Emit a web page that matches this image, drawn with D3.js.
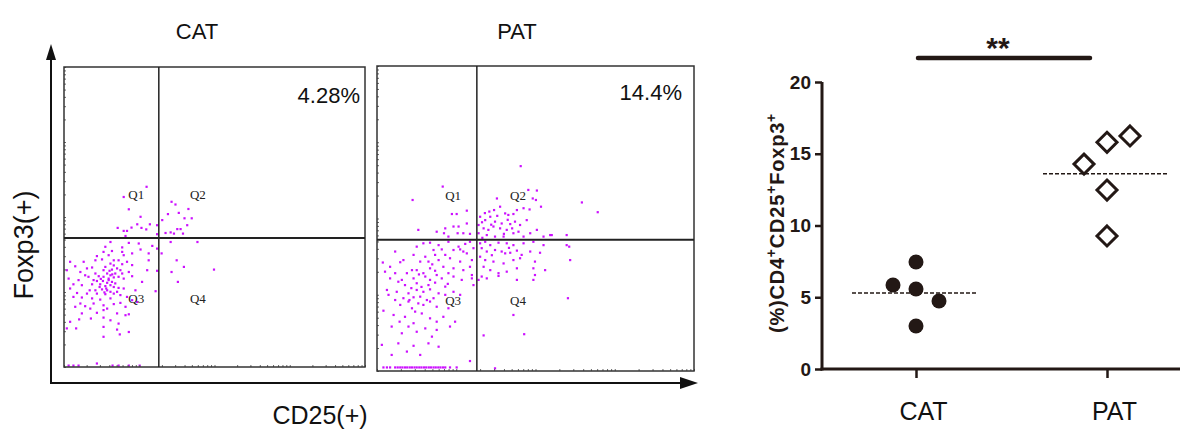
<!DOCTYPE html>
<html>
<head>
<meta charset="utf-8">
<script src="https://cdn.jsdelivr.net/npm/d3@7"></script>
<style>
body { margin: 0; background: #fff; }
text { font-family: "Liberation Sans", Arial, sans-serif; }
</style>
</head>
<body>
<script>
// flow panels: dots in gate units (0-100 each way)
const panels = ["CAT", "PAT"];
const percents = ["4.28%", "14.4%"];
const quadLabels = ["Q1", "Q2", "Q3", "Q4"];
const gateX = 31.5, gateY = 43;

const catDots = [
  [27.4,60.1],[19.8,56.7],[21.5,52.6],[25.4,50.1],[24.3,47.6],[28.5,47.6],[25.7,46.4],[30.9,47.3],[17.8,46.4],[19.8,45.4],
  [20.9,45.4],[20.4,43.7],[27.3,45.9],[22.4,46.5],
  [35.7,55.1],[37.0,54.2],[41.3,52.7],[34.5,51.0],[38.1,51.4],[40.0,49.6],[42.4,49.6],[40.9,47.3],[32.6,49.0],[38.7,46.0],
  [37.6,46.0],[39.5,44.5],[33.7,44.7],[35.4,44.9],[36.5,44.5],[30.9,44.3],
  [44.3,41.7],[35.4,41.7],[32.4,37.9],[37.4,35.6],[39.8,33.4],[49.8,32.5],[35.7,31.7],[37.8,28.4],[30.4,25.3],[30.9,32.1],
  [15.4,41.7],[21.5,41.4],[24.8,41.2],[13.7,40.1],[19.3,39.9],[29.3,40.4],[30.9,39.5],[25.4,39.2],[13.1,38.4],[15.9,38.7],
  [19.3,38.4],[14.8,37.3],[19.8,37.3],[22.6,37.9],[28.1,37.9],[10.9,37.0],[6.5,35.1],[10.4,35.6],[12.6,35.9],[16.5,35.6],
  [18.1,35.6],[20.9,35.1],[28.1,35.6],[2.0,35.1],[15.4,34.5],[19.3,34.3],[22.6,34.0],[3.7,33.6],[7.6,32.9],[9.3,33.2],
  [13.1,32.3],[15.9,32.5],[17.6,32.9],[18.7,32.3],[21.5,31.7],[27.6,32.3],[0.9,32.3],[5.4,31.7],[10.4,31.2],[14.3,31.2],
  [17.0,31.2],[7.0,30.6],[8.1,30.1],[11.5,30.3],[13.1,30.1],[15.4,30.6],[16.5,29.9],[18.1,30.1],[19.8,29.5],[14.8,29.0],
  [10.9,28.7],[4.8,29.0],[1.5,29.5],[22.6,30.3],[25.9,28.4],[3.1,27.6],[5.9,27.3],[9.3,27.6],[12.0,27.6],[13.7,27.0],
  [15.4,27.3],[16.5,26.7],[18.1,26.4],[19.8,26.2],[12.6,25.9],[10.4,25.6],[14.3,25.6],[2.0,26.2],[23.7,25.6],[4.3,24.7],
  [7.6,24.5],[10.9,24.5],[13.7,24.3],[16.5,24.5],[18.7,24.0],[20.9,23.4],[5.9,23.2],[9.3,22.9],[15.4,22.9],[12.0,22.5],
  [3.1,23.4],[22.6,22.3],[5.4,21.2],[7.0,20.3],[9.8,21.2],[13.1,20.6],[16.5,21.0],[18.7,21.4],[20.4,20.1],[14.3,19.5],
  [8.7,19.5],[3.7,20.1],[24.3,21.7],[13.1,19.0],[10.9,18.1],[5.9,17.9],[17.6,17.9],[20.4,17.3],[21.5,17.6],[8.9,16.2],
  [5.0,15.9],[13.1,16.5],[15.4,15.6],[18.1,14.5],[2.0,15.1],[0.9,12.9],[4.0,12.9],[13.1,13.4],[17.6,12.5],[21.5,11.7],
  [18.5,10.9],[13.1,10.1],[14.8,29.5],[15.9,28.4],[17.0,27.9],[14.3,28.1],[12.9,28.7],[17.6,25.1],[15.4,25.1],[11.8,26.7],
  [19.3,31.2],[13.7,33.4],[16.5,33.9],[9.8,29.0],[8.5,25.6],[15.1,32.1],[14.0,26.2],[12.2,29.4],[16.0,30.9],[13.4,24.9],
  [1.5,0.5],[3.1,0.5],[4.8,0.5],[10.9,1.2],[16.1,0.5],[18.1,0.5],[21.5,0.5],[25.1,0.5]
];

const patDots = [
  [45.3,67.2],[11.2,56.1],[20.7,60.5],[64.6,55.3],[69.6,52.1],[47.7,59.4],[50.4,59.2],[37.8,56.6],[49.1,56.6],[51.7,53.9],[50.1,56.1],
  [23.6,51.5],[25.1,51.5],[28.3,52.6],[13.0,46.3],[18.8,45.7],[21.5,46.8],[24.1,47.4],[25.7,47.4],[21.1,45.2],[25.4,45.2],
  [27.2,45.2],[29.3,45.0],[28.3,48.4],[22.5,44.1],
  [35.4,52.3],[36.9,52.8],[38.8,53.9],[40.4,51.7],[41.4,51.2],[43.0,51.5],[44.1,52.8],[46.2,53.4],[48.1,53.0],[32.5,50.6],
  [34.1,49.5],[35.7,50.6],[37.2,49.0],[39.3,48.4],[42.0,48.2],[43.5,49.0],[45.1,47.9],[47.2,49.5],[32.0,47.9],[33.6,46.8],
  [35.1,46.3],[36.7,47.4],[38.8,46.8],[40.9,46.3],[43.0,45.2],[44.6,45.7],[48.3,45.2],[50.4,46.3],[54.6,44.6],[59.8,44.6],
  [32.0,45.2],[34.6,44.6],[37.2,44.1],[39.9,44.1],[46.2,44.1],[52.5,44.1],[55.1,44.6],[33.1,48.8],[36.0,48.0],[41.2,49.6],
  [34.0,51.8],[37.9,50.9],[40.0,45.0],[42.6,46.8],[33.2,43.7],
  [32.5,41.9],[34.1,42.4],[35.7,41.3],[38.3,42.1],[40.9,41.9],[43.0,41.3],[46.2,41.9],[49.3,42.4],[52.5,41.3],[59.8,41.3],
  [60.6,40.8],[33.0,40.3],[34.6,39.2],[37.2,39.7],[39.3,39.2],[40.4,38.6],[42.0,38.8],[44.1,39.5],[45.6,38.1],[48.3,39.2],
  [51.4,38.8],[32.5,37.5],[34.1,36.4],[36.7,35.9],[39.9,35.3],[43.0,36.4],[45.1,37.0],[49.8,35.9],[53.0,33.1],[60.9,36.4],
  [33.6,34.2],[35.7,33.1],[38.3,32.1],[40.9,32.6],[44.1,33.7],[49.3,33.7],[49.8,31.5],[33.0,31.0],[34.6,30.4],[38.3,31.2],
  [44.1,29.9],[49.3,29.9],[32.0,29.9],[60.2,23.9],[43.0,18.4],[46.4,12.1],[33.6,11.7],[37.2,0.9],[36.2,38.0],[41.6,40.4],
  [14.6,41.9],[16.7,42.1],[19.4,41.3],[22.5,42.4],[25.7,40.8],[27.8,41.7],[29.3,42.4],[12.5,40.8],[20.4,39.9],[24.1,39.7],
  [26.2,39.9],[27.2,39.2],[30.4,40.3],[5.7,39.2],[17.8,39.7],[11.5,38.1],[15.2,37.5],[18.3,38.1],[21.5,38.1],[28.3,38.6],
  [8.3,36.4],[13.6,35.9],[16.2,35.9],[19.4,36.4],[23.0,37.0],[26.2,35.9],[29.9,36.4],[1.8,35.6],[7.3,35.7],[4.1,34.2],
  [11.0,33.1],[12.5,33.1],[16.7,33.7],[18.3,32.9],[20.9,34.2],[24.1,33.7],[27.2,33.1],[29.3,34.2],[9.4,32.1],[14.6,32.1],
  [18.8,31.5],[22.5,32.1],[29.9,31.5],[2.5,32.6],[5.7,32.1],[7.8,29.9],[11.5,30.4],[15.2,31.0],[16.7,29.9],[20.4,30.4],
  [24.1,31.0],[26.7,29.9],[29.9,30.4],[4.1,30.4],[8.8,28.2],[12.5,28.8],[16.2,28.2],[18.3,29.0],[21.5,27.7],[30.4,28.2],
  [6.7,29.3],[3.1,26.6],[6.2,26.0],[9.9,25.5],[12.5,26.6],[14.6,26.0],[16.7,26.8],[19.4,25.5],[21.5,25.0],[24.1,26.0],
  [8.3,23.9],[11.5,24.2],[13.6,24.4],[15.7,23.3],[17.8,23.9],[26.2,25.0],[3.6,25.0],[5.7,23.3],[9.9,22.8],[13.0,22.2],
  [14.6,21.7],[18.8,21.1],[22.5,20.6],[2.0,19.8],[7.3,21.7],[11.0,20.6],[16.7,22.8],[5.2,18.4],[8.8,17.8],[14.1,18.9],
  [16.7,17.3],[11.5,15.7],[18.8,16.2],[24.6,16.2],[20.9,17.8],[7.1,16.2],[4.6,14.6],[9.9,14.6],[15.2,14.0],[18.8,13.5],
  [7.8,12.4],[12.5,12.9],[17.3,11.3],[23.0,14.6],[1.5,8.6],[6.7,9.1],[11.5,8.3],[16.2,9.1],[9.4,6.4],[13.6,5.3],
  [4.6,5.3],[19.4,8.0],[29.3,3.3],[14.0,27.6],[10.8,27.2],[13.2,31.7],[17.4,35.0],[22.3,28.6],[10.2,23.3],[12.0,19.5],
  [2.0,1.2],[3.1,1.2],[4.1,1.2],[5.7,1.2],[6.5,1.2],[7.3,1.2],[8.0,1.2],[8.8,1.2],[9.5,1.2],[10.3,1.2],
  [11.0,1.2],[11.8,1.2],[12.5,1.2],[13.3,1.2],[14.0,1.2],[14.8,1.2],[15.5,1.2],[16.3,1.2],[17.0,1.2],[17.8,1.2],
  [18.5,1.2],[19.3,1.2],[20.0,1.2],[20.8,1.2],[21.5,1.2],[23.0,1.2],[25.1,1.2]
];
const flowDots = [catDots, patDots];

// right dot plot
const groups = ["CAT", "PAT"];
const catVals = [5.85, 7.46, 5.57, 4.74, 3.0];
const patVals = [14.28, 15.8, 16.24, 12.47, 9.27];
const jitterCol = [-1, 0, 0, 1, 0];
const patCol = [-1, 0, 1, 0, 0];
const means = [5.3, 13.6];
const yTicks = [0, 5, 10, 15, 20];
const sigLabel = "**";

const svg = d3.select("body").append("svg")
  .attr("width", 1188).attr("height", 432);

// ---- flow panels ----
const boxes = [
  {x0: 64, x1: 365, y0: 67, y1: 367, title: 197, px: 360, py: 103},
  {x0: 377, x1: 694, y0: 66, y1: 371, title: 517, px: 682, py: 100}
];

boxes.forEach(function(b, i) {
  const x = d3.scaleLinear().domain([0, 100]).range([b.x0, b.x1]);
  const y = d3.scaleLinear().domain([0, 100]).range([b.y1, b.y0]);
  const g = svg.append("g");

  g.append("text").attr("x", b.title).attr("y", 39)
    .attr("text-anchor", "middle").attr("font-size", 22).attr("fill", "#111")
    .text(panels[i]);

  g.selectAll("rect.dot").data(flowDots[i]).enter().append("rect")
    .attr("class", "dot")
    .attr("x", d => x(d[0]) - 1).attr("y", d => y(d[1]) - 1)
    .attr("width", 2.2).attr("height", 2.2)
    .attr("fill", "#cc10ff");

  // little log ticks on the inner edges
  const lg = d3.scaleLog().domain([1, 10000]);
  g.append("g").attr("transform", "translate(" + b.x0 + ",0)")
    .call(d3.axisRight(lg.copy().range([b.y1, b.y0])).tickSize(2).tickFormat(""))
    .call(s => s.select(".domain").remove())
    .selectAll("line").attr("stroke", "#666");
  g.append("g").attr("transform", "translate(0," + b.y1 + ")")
    .call(d3.axisTop(lg.copy().range([b.x0, b.x1])).tickSize(2).tickFormat(""))
    .call(s => s.select(".domain").remove())
    .selectAll("line").attr("stroke", "#666");

  g.append("rect").attr("x", b.x0).attr("y", b.y0)
    .attr("width", b.x1 - b.x0).attr("height", b.y1 - b.y0)
    .attr("fill", "none").attr("stroke", "#333").attr("stroke-width", 1.5);

  g.append("line").attr("x1", x(gateX)).attr("x2", x(gateX))
    .attr("y1", b.y0).attr("y2", b.y1).attr("stroke", "#222").attr("stroke-width", 1.5);
  g.append("line").attr("x1", b.x0).attr("x2", b.x1)
    .attr("y1", y(gateY)).attr("y2", y(gateY)).attr("stroke", "#222").attr("stroke-width", 2);

  const qx = [gateX - 7.5, gateX + 13, gateX - 7.5, gateX + 13];
  const qy = [gateY + 13, gateY + 13, gateY - 21.5, gateY - 21.5];
  g.selectAll("text.q").data(quadLabels).enter().append("text")
    .attr("class", "q")
    .attr("x", (d, k) => x(qx[k])).attr("y", (d, k) => y(qy[k]))
    .attr("text-anchor", "middle")
    .style("font-family", "'Liberation Serif', 'DejaVu Serif', serif")
    .attr("font-size", 13).attr("fill", "#222")
    .text(d => d);

  g.append("text").attr("x", b.px).attr("y", b.py)
    .attr("text-anchor", "end").attr("font-size", 22).attr("fill", "#111")
    .text(percents[i]);
});

// axis arrows
svg.append("line").attr("x1", 51).attr("x2", 51).attr("y1", 384).attr("y2", 56)
  .attr("stroke", "#111").attr("stroke-width", 2);
svg.append("path").attr("d", "M51,44 L46,60 L56,60 Z").attr("fill", "#111");
svg.append("line").attr("x1", 50).attr("x2", 684).attr("y1", 383).attr("y2", 383)
  .attr("stroke", "#111").attr("stroke-width", 2);
svg.append("path").attr("d", "M698,383 L680,377 L680,389 Z").attr("fill", "#111");

svg.append("text").attr("transform", "translate(33,245) rotate(-90)")
  .attr("text-anchor", "middle").attr("font-size", 27).attr("fill", "#111")
  .text("Foxp3(+)");
svg.append("text").attr("x", 320).attr("y", 424)
  .attr("text-anchor", "middle").attr("font-size", 25).attr("fill", "#111")
  .text("CD25(+)");

// ---- dot plot ----
const y = d3.scaleLinear().domain([0, 20]).range([369, 82]);
const x = d3.scalePoint().domain(groups).range([916, 1107]);
const jit = 23;

const yAxis = svg.append("g").attr("transform", "translate(822,0)")
  .call(d3.axisLeft(y).tickValues(yTicks).tickSize(7).tickPadding(4));
yAxis.select(".domain").attr("stroke", "#231815").attr("stroke-width", 3)
  .attr("d", "M0," + y(20) + "V" + (y(0) + 1.5));
yAxis.selectAll(".tick line").attr("stroke", "#231815").attr("stroke-width", 2.5);
yAxis.selectAll(".tick text").attr("font-size", 19).attr("font-weight", "bold")
  .attr("fill", "#231815").style("font-family", "'Liberation Sans', Arial, sans-serif");

const xAxis = svg.append("g").attr("transform", "translate(0,369)")
  .call(d3.axisBottom(x).tickSize(9).tickPadding(24));
xAxis.select(".domain").attr("stroke", "#231815").attr("stroke-width", 3)
  .attr("d", "M820.5,0H1180");
xAxis.selectAll(".tick line").attr("stroke", "#231815").attr("stroke-width", 2.5);
xAxis.selectAll(".tick text").attr("font-size", 25).attr("fill", "#111").attr("dx", 7)
  .style("font-family", "'Liberation Sans', Arial, sans-serif");

svg.append("text")
  .attr("transform", "translate(784,223) rotate(-90)")
  .attr("text-anchor", "middle").attr("font-size", 20).attr("font-weight", "bold")
  .attr("letter-spacing", 0.8)
  .attr("fill", "#231815")
  .html('(%)CD4<tspan dy="-8" font-size="14">+</tspan><tspan dy="8">CD25</tspan><tspan dy="-8" font-size="14">+</tspan><tspan dy="8">Foxp3</tspan><tspan dy="-8" font-size="14">+</tspan>');

// mean lines
svg.selectAll("line.mean").data(means).enter().append("line")
  .attr("class", "mean")
  .attr("x1", (d, i) => x(groups[i]) - 64).attr("x2", (d, i) => x(groups[i]) + 62)
  .attr("y1", d => y(d)).attr("y2", d => y(d))
  .attr("stroke", "#231815").attr("stroke-width", 1.5).attr("stroke-dasharray", "4,2");

svg.selectAll("circle.cat").data(catVals).enter().append("circle")
  .attr("class", "cat")
  .attr("cx", (d, i) => x("CAT") + jitterCol[i] * jit)
  .attr("cy", d => y(d)).attr("r", 7.5).attr("fill", "#231815");

const dm = 10;
svg.selectAll("path.pat").data(patVals).enter().append("path")
  .attr("class", "pat")
  .attr("transform", (d, i) => "translate(" + (x("PAT") + patCol[i] * jit) + "," + y(d) + ")")
  .attr("d", "M0," + (-dm) + "L" + dm + ",0L0," + dm + "L" + (-dm) + ",0Z")
  .attr("fill", "#fff").attr("stroke", "#231815").attr("stroke-width", 3);

// significance bar
svg.append("line").attr("x1", x("CAT") + 2).attr("x2", x("PAT") - 17)
  .attr("y1", 58).attr("y2", 58)
  .attr("stroke", "#231815").attr("stroke-width", 4.5).attr("stroke-linecap", "round");
svg.append("text").attr("x", 998).attr("y", 58)
  .attr("text-anchor", "middle").attr("font-size", 30).attr("font-weight", "bold")
  .attr("fill", "#231815").text(sigLabel);
</script>
</body>
</html>
